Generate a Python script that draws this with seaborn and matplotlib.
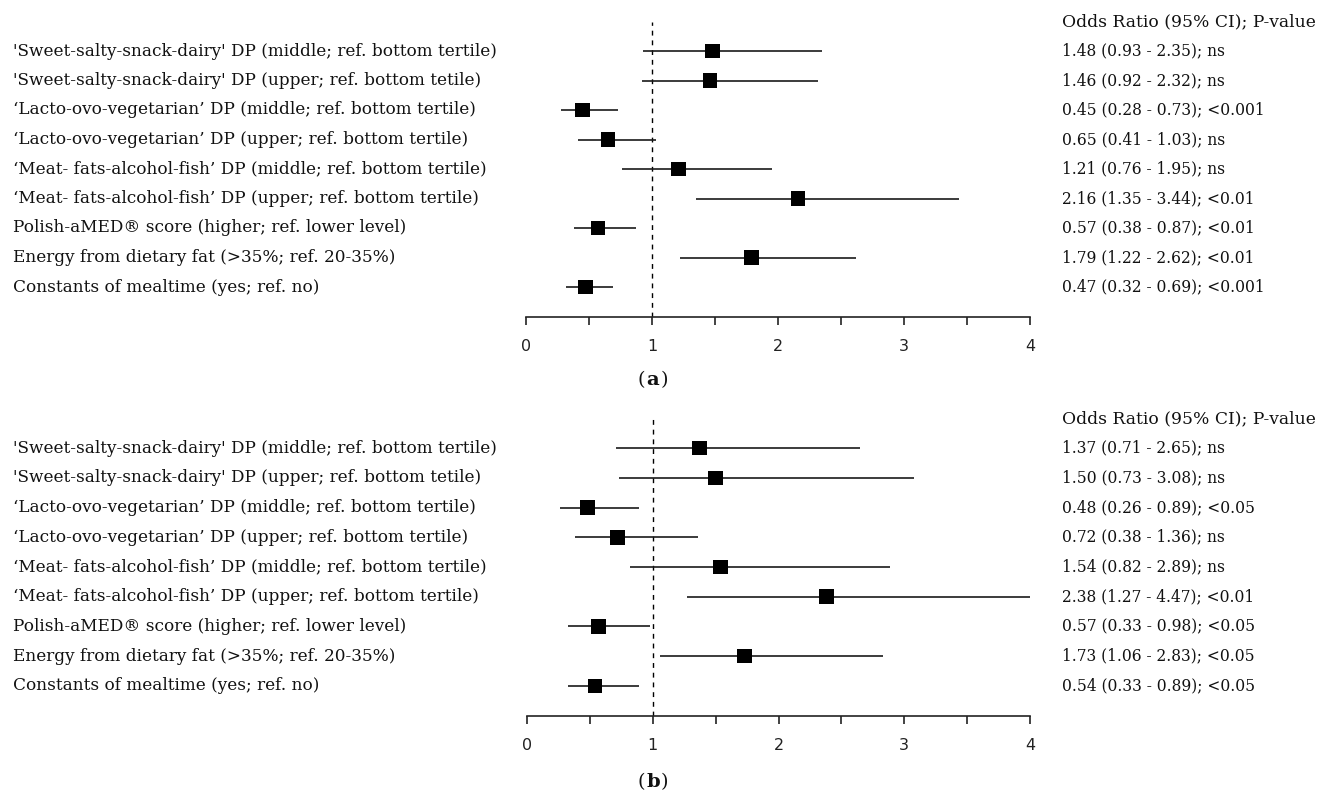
import matplotlib
matplotlib.use("Agg")
import matplotlib.pyplot as plt
import matplotlib.transforms as mtransforms
from matplotlib.ticker import MultipleLocator
import numpy as np
import pandas as pd
import seaborn as sns

# ---------------- data ----------------
labels = [
    "'Sweet-salty-snack-dairy' DP (middle; ref. bottom tertile)",
    "'Sweet-salty-snack-dairy' DP (upper; ref. bottom tetile)",
    "\u2018Lacto-ovo-vegetarian\u2019 DP (middle; ref. bottom tertile)",
    "\u2018Lacto-ovo-vegetarian\u2019 DP (upper; ref. bottom tertile)",
    "\u2018Meat- fats-alcohol-fish\u2019 DP (middle; ref. bottom tertile)",
    "\u2018Meat- fats-alcohol-fish\u2019 DP (upper; ref. bottom tertile)",
    "Polish-aMED\u00ae score (higher; ref. lower level)",
    "Energy from dietary fat (>35%; ref. 20-35%)",
    "Constants of mealtime (yes; ref. no)",
]

or_a = [1.48, 1.46, 0.45, 0.65, 1.21, 2.16, 0.57, 1.79, 0.47]
lo_a = [0.93, 0.92, 0.28, 0.41, 0.76, 1.35, 0.38, 1.22, 0.32]
hi_a = [2.35, 2.32, 0.73, 1.03, 1.95, 3.44, 0.87, 2.62, 0.69]
p_a = ["ns", "ns", "<0.001", "ns", "ns", "<0.01", "<0.01", "<0.01", "<0.001"]

or_b = [1.37, 1.50, 0.48, 0.72, 1.54, 2.38, 0.57, 1.73, 0.54]
lo_b = [0.71, 0.73, 0.26, 0.38, 0.82, 1.27, 0.33, 1.06, 0.33]
hi_b = [2.65, 3.08, 0.89, 1.36, 2.89, 4.47, 0.98, 2.83, 0.89]
p_b = ["ns", "ns", "<0.05", "ns", "ns", "<0.01", "<0.05", "<0.05", "<0.05"]

x_ticks = [0, 1, 2, 3, 4]
header = "Odds Ratio (95% CI); P-value"
panel_tags = ["a", "b"]

# ---------------- style ----------------
sns.set_theme(style="white")
plt.rcParams["font.family"] = ["DejaVu Serif"]

W, H = 1317, 798
fig = plt.figure(figsize=(W / 100, H / 100), dpi=100)


def px_x(x):
    return x / W


def ax_rect(left_px, top_px, right_px, bottom_px):
    return [left_px / W, 1 - bottom_px / H, (right_px - left_px) / W, (bottom_px - top_px) / H]


panels = [
    dict(ors=or_a, lo=lo_a, hi=hi_a, p=p_a, rect=ax_rect(526, 21.5, 1030, 316.5), cap_y=380),
    dict(ors=or_b, lo=lo_b, hi=hi_b, p=p_b, rect=ax_rect(527, 418.5, 1030, 715.5), cap_y=782),
]

for tag, pan in zip(panel_tags, panels):
    ax = fig.add_axes(pan["rect"])
    df = pd.DataFrame({
        "label": labels,
        "row": np.arange(len(labels)),
        "OR": pan["ors"],
        "lo": pan["lo"],
        "hi": pan["hi"],
    })
    ax.hlines(df["row"], df["lo"], df["hi"], color="#1a1a1a", lw=1.2, zorder=2)
    sns.scatterplot(data=df, x="OR", y="row", marker="s", s=110, color="black",
                    edgecolor="none", linewidth=0, ax=ax, zorder=3, legend=False)
    ax.axvline(1, color="black", lw=1.0, linestyle=(0, (3.5, 3.5)), zorder=1)

    ax.set_xlim(0, 4)
    ax.set_ylim(len(labels) - 0.0, -1.0)
    ax.set_xlabel("")
    ax.set_ylabel("")
    ax.set_yticks([])
    ax.set_xticks(x_ticks)
    ax.set_xticklabels([str(t) for t in x_ticks], fontfamily="DejaVu Sans", fontsize=11.5, color="#222222")
    ax.xaxis.set_minor_locator(MultipleLocator(0.5))
    ax.tick_params(axis="x", which="both", direction="out", length=6, width=1.2,
                   color="#222222", bottom=True, pad=10)
    for side in ["top", "left", "right"]:
        ax.spines[side].set_visible(False)
    ax.spines["bottom"].set_color("#222222")
    ax.spines["bottom"].set_linewidth(1.2)
    ax.patch.set_alpha(0)

    trans = mtransforms.blended_transform_factory(fig.transFigure, ax.transData)
    for i, lab in enumerate(labels):
        ax.text(px_x(13), i, lab, transform=trans, ha="left", va="center",
                fontsize=12.2, color="#111111", clip_on=False)
        txt = f"{pan['ors'][i]:.2f} ({pan['lo'][i]:.2f} - {pan['hi'][i]:.2f}); {pan['p'][i]}"
        ax.text(px_x(1062), i, txt, transform=trans, ha="left", va="center",
                fontsize=11.2, color="#111111", clip_on=False)
    ax.text(px_x(1062), -1.0, header, transform=trans, ha="left", va="center",
            fontsize=12.3, color="#111111", clip_on=False)

    cy = 1 - pan["cap_y"] / H
    fig.text(px_x(653), cy, tag, ha="center", va="center", fontsize=14,
             fontweight="bold", color="#111111")
    fig.text(px_x(653 - 7.5), cy, "(", ha="right", va="center", fontsize=14, color="#111111")
    fig.text(px_x(653 + 7.5), cy, ")", ha="left", va="center", fontsize=14, color="#111111")

fig.savefig("out.png", dpi=100)
